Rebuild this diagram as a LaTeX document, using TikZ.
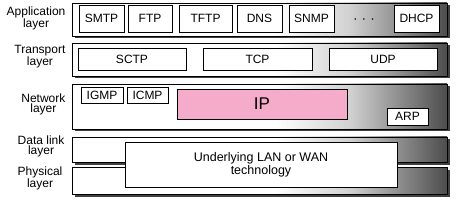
\documentclass[tikz,border=0pt]{standalone}
\usepackage{fontspec}
\setmainfont{Liberation Sans}
\usetikzlibrary{positioning,shadows}
\definecolor{ippink}{RGB}{245,172,202}
\pgfdeclarehorizontalshading{layershade}{100bp}{color(0bp)=(white); color(25bp)=(white); color(52bp)=(white); color(62bp)=(black!18); color(75bp)=(black!70); color(100bp)=(black!70)}
\tikzset{
  band/.style={draw, line width=0.8pt, shading=layershade, inner sep=0pt,
    drop shadow={shadow xshift=2.5pt, shadow yshift=-2.5pt, fill=black!75, opacity=1}},
  proto/.style={draw, line width=0.7pt, fill=white, inner sep=0pt,
    font=\fontsize{12}{12}\selectfont},
  lbl/.style={align=center, inner sep=1pt, font=\fontsize{12}{10.5}\selectfont}
}
\begin{document}
\begin{tikzpicture}[x=1pt,y=-1pt]
\useasboundingbox (0,0) rectangle (471,203);
% layer bands
\node[band, minimum width=375, minimum height=33] (app) at (259.5,19.5) {};
\node[band, minimum width=375, minimum height=33] (trans) at (259.5,59.5) {};
\node[band, minimum width=375, minimum height=45] (net) at (259.5,106.5) {};
\node[band, minimum width=375, minimum height=25] (link) at (259.5,149.5) {};
\node[band, minimum width=375, minimum height=27] (phys) at (259.5,180.5) {};
% layer names
\node[lbl, left=5pt of app, yshift=1.5pt] {Application\\layer};
\node[lbl, left=5pt of trans, yshift=3pt] {Transport\\layer};
\node[lbl, left=5pt of net, yshift=2pt] {Network\\layer};
\node[lbl, left=6pt of link, yshift=3pt] {Data link\\layer};
\node[lbl, left=8pt of phys, yshift=2.5pt] {Physical\\layer};
% application protocols
\node[proto, minimum width=45, minimum height=27] (smtp) at (101.5,18.5) {SMTP};
\node[proto, minimum width=44, minimum height=27] (ftp) at (150,18.5) {FTP};
\node[proto, minimum width=53, minimum height=27] (tftp) at (205.5,18.5) {TFTP};
\node[proto, minimum width=45, minimum height=27] (dns) at (259.5,18.5) {DNS};
\node[proto, minimum width=45, minimum height=27] (snmp) at (311.5,18.5) {SNMP};
\node[font=\fontsize{6}{6}\selectfont] (dots) at (364,20.5) {\textbullet\hspace{6.5pt}\textbullet\hspace{6.5pt}\textbullet};
\node[proto, minimum width=45, minimum height=27] (dhcp) at (416.5,18.5) {DHCP};
% transport protocols
\node[proto, minimum width=108, minimum height=22] (sctp) at (132,59) {SCTP};
\node[proto, minimum width=109, minimum height=22] (tcp) at (257.5,59) {TCP};
\node[proto, minimum width=108, minimum height=22] (udp) at (383,59) {UDP};
% network protocols
\node[proto, minimum width=42, minimum height=16] (igmp) at (102,95) {IGMP};
\node[proto, minimum width=41, minimum height=16] (icmp) at (147.5,95) {ICMP};
\node[proto, fill=ippink, minimum width=170, minimum height=30,
  font=\fontsize{17}{17}\selectfont] (ip) at (262,104) {IP};
\node[proto, minimum width=41, minimum height=17] (arp) at (407.5,116.5) {ARP};
% lower layers
\node[proto, minimum width=272, minimum height=45, align=center,
  font=\fontsize{12.5}{10.5}\selectfont] (lanwan) at (261,164.5) {Underlying LAN or WAN\\technology};
\end{tikzpicture}
\end{document}
